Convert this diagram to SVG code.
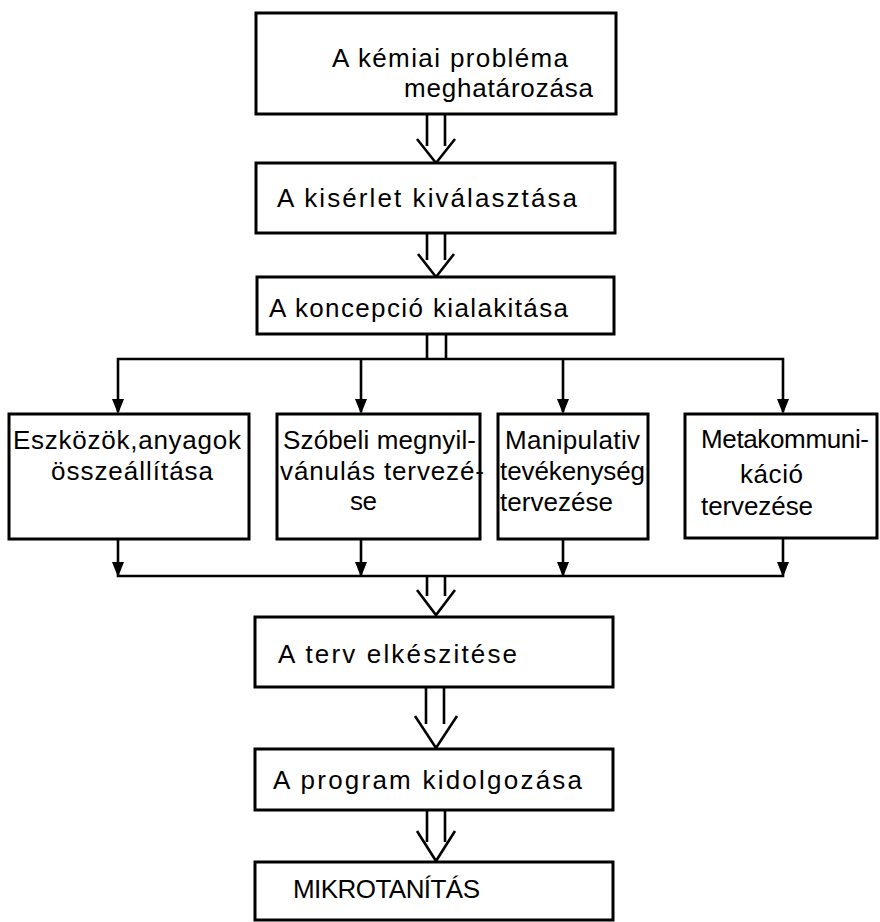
<svg xmlns="http://www.w3.org/2000/svg" width="880" height="922" viewBox="0 0 880 922">
<style>
.box{fill:#fff;stroke:#000;stroke-width:3}
.t{font-family:"Liberation Sans","DejaVu Sans",sans-serif;font-size:26px;fill:#000}
.ln{fill:none;stroke:#000;stroke-width:2.6;stroke-linejoin:miter}
.ah{fill:#000;stroke:none}
</style>
<defs>
<path id="tri" d="M-6 -15 L6 -15 L0 0 Z" class="ah"/>
</defs>
<rect width="880" height="922" fill="#fff"/>

<g id="connectors">
<!-- hollow arrow box1 -> box2 -->
<path class="ln" d="M427 114 V146 M445 114 V146 M417 139 L436 163 L455 139"/>
<!-- hollow arrow box2 -> box3 -->
<path class="ln" d="M427 233 V260 M445 233 V260 M418 254 L436 277 L454 254"/>
<!-- fork -->
<path class="ln" d="M427 334 V359 M446 334 V359"/>
<path class="ln" d="M118 412 V359 H783 V412 M361 359 V412 M563 359 V412"/>
<use href="#tri" x="118" y="414"/>
<use href="#tri" x="361" y="414"/>
<use href="#tri" x="563" y="414"/>
<use href="#tri" x="783" y="414"/>
<!-- join -->
<path class="ln" d="M118 539 V576 H783 V539 M361 539 V576 M563 539 V576"/>
<use href="#tri" x="118" y="577"/>
<use href="#tri" x="361" y="577"/>
<use href="#tri" x="563" y="577"/>
<use href="#tri" x="783" y="577"/>
<!-- hollow arrow join -> box E -->
<path class="ln" d="M427 576 V596 M445 576 V596 M417 590 L436 615 L455 590"/>
<!-- hollow arrow E -> F -->
<path class="ln" d="M426 687 V724 M444 687 V724 M415 716 L436 748 L457 716"/>
<!-- hollow arrow F -> G -->
<path class="ln" d="M427 810 V842 M445 810 V842 M417 831 L436 861 L455 831"/>
</g>

<g id="n1">
<rect class="box" x="256" y="13" width="360" height="101"/>
<text class="t" x="332" y="67" textLength="236" lengthAdjust="spacing">A kémiai probléma</text>
<text class="t" x="404" y="97" textLength="189" lengthAdjust="spacing">meghatározása</text>
</g>
<g id="n2">
<rect class="box" x="256" y="163" width="359" height="70"/>
<text class="t" x="277" y="207" textLength="300" lengthAdjust="spacing">A kisérlet kiválasztása</text>
</g>
<g id="n3">
<rect class="box" x="257" y="277" width="357" height="57"/>
<text class="t" x="269" y="317" textLength="299" lengthAdjust="spacing">A koncepció kialakitása</text>
</g>
<g id="n4">
<rect class="box" x="9" y="414" width="240" height="125"/>
<text class="t" x="13" y="449" textLength="228" lengthAdjust="spacing">Eszközök,anyagok</text>
<text class="t" x="51" y="480" textLength="162" lengthAdjust="spacing">összeállítása</text>
</g>
<g id="n5">
<rect class="box" x="277" y="414" width="203" height="125"/>
<text class="t" x="283" y="449" textLength="193" lengthAdjust="spacing">Szóbeli megnyil-</text>
<text class="t" x="280" y="480" textLength="204" lengthAdjust="spacing">vánulás tervezé-</text>
<text class="t" x="350" y="510" textLength="27" lengthAdjust="spacing">se</text>
</g>
<g id="n6">
<rect class="box" x="498" y="414" width="150" height="125"/>
<text class="t" x="505" y="449" textLength="135" lengthAdjust="spacing">Manipulativ</text>
<text class="t" x="500" y="480" textLength="145" lengthAdjust="spacing">tevékenység</text>
<text class="t" x="500" y="511" textLength="113" lengthAdjust="spacing">tervezése</text>
</g>
<g id="n7">
<rect class="box" x="685" y="414" width="192" height="124"/>
<text class="t" x="701" y="448" textLength="168" lengthAdjust="spacing">Metakommuni-</text>
<text class="t" x="740" y="483" textLength="63" lengthAdjust="spacing">káció</text>
<text class="t" x="701" y="515" textLength="112" lengthAdjust="spacing">tervezése</text>
</g>
<g id="n8">
<rect class="box" x="255" y="617" width="358" height="70"/>
<text class="t" x="278" y="663" textLength="239" lengthAdjust="spacing">A terv elkészitése</text>
</g>
<g id="n9">
<rect class="box" x="255" y="749" width="358" height="61"/>
<text class="t" x="273" y="789" textLength="309" lengthAdjust="spacing">A program kidolgozása</text>
</g>
<g id="n10">
<rect class="box" x="255" y="862" width="358" height="58"/>
<text class="t" x="293" y="898" textLength="187" lengthAdjust="spacing">MIKROTANÍTÁS</text>
</g>
</svg>
